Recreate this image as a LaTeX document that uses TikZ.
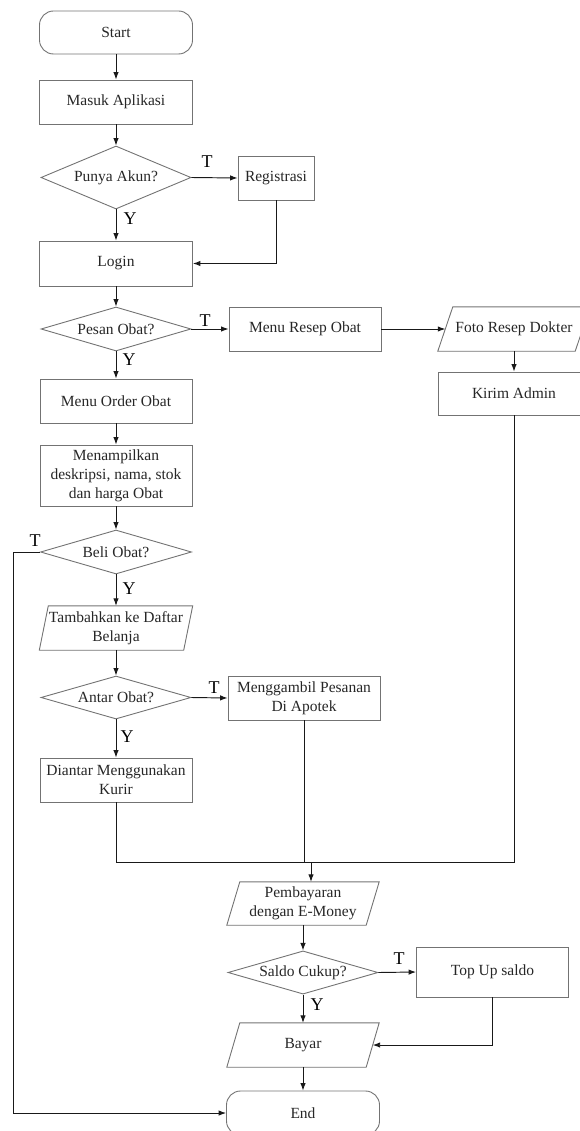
\documentclass[tikz,border=0pt]{standalone}
\usepackage{fontspec}
\setmainfont{Liberation Serif}
\usetikzlibrary{shapes.geometric,arrows.meta,calc}
\newcommand\drawpgram[2]{%
  \draw[outline] ($(#1.north west)+(#2,0)$) -- ($(#1.north east)+(#2,0)$)
    -- ($(#1.south east)+(-#2,0)$) -- ($(#1.south west)+(-#2,0)$) -- cycle;}
\begin{document}
\begin{tikzpicture}[x=1pt,y=-1pt,
  every node/.style={font=\fontsize{15.5}{19}\selectfont, text=black!85},
  outline/.style={draw=black!55, line width=0.9pt},
  box/.style={outline, rectangle, inner sep=2pt, align=center},
  term/.style={box, rounded corners=14pt},
  dec/.style={outline, diamond, shape aspect=3, inner sep=0pt},
  io/.style={rectangle, inner sep=2pt, align=center},
  lab/.style={font=\fontsize{18}{20}\selectfont, text=black},
  wire/.style={draw=black!90, line width=0.95pt},
  flow/.style={wire, -{Latex[length=7.5pt,width=5.5pt]}},
]
\useasboundingbox (0,0) rectangle (579,1131);

% main column
\node[term, minimum width=153pt, minimum height=43pt] (start) at (116,32.5) {Start};
\node[box, minimum width=153pt, minimum height=44pt] (masuk) at (116,102) {Masuk Aplikasi};
\node[dec, minimum width=150pt, minimum height=63pt] (punya) at (116,177.5) {Punya Akun?};
\node[box, minimum width=76pt, minimum height=44pt] (reg) at (276,178) {Registrasi};
\node[box, minimum width=153pt, minimum height=45pt] (login) at (116,263.5) {Login};
\node[dec, minimum width=150pt, minimum height=44pt] (pesan) at (116,329) {Pesan Obat?};
\node[box, minimum width=152pt, minimum height=44pt] (resep) at (305,329) {Menu Resep Obat};
\node[io, minimum width=137pt, minimum height=44pt] (foto) at (514,329) {Foto Resep Dokter};
\drawpgram{foto}{7.5}
\node[box, minimum width=151pt, minimum height=43pt] (kirim) at (514,393.5) {Kirim Admin};
\node[box, minimum width=152pt, minimum height=44pt] (order) at (116,401) {Menu Order Obat};
\node[box, minimum width=152pt, minimum height=61pt] (tampil) at (116,475.5) {Menampilkan\\deskripsi, nama, stok\\dan harga Obat};
\node[dec, minimum width=151pt, minimum height=44pt] (beli) at (116,552) {Beli Obat?};
\node[io, minimum width=144pt, minimum height=44pt] (tambah) at (116,628) {Tambahkan ke Daftar\\Belanja};
\drawpgram{tambah}{4.5}
\node[dec, minimum width=150pt, minimum height=43pt] (antar) at (116,697.5) {Antar Obat?};
\node[box, minimum width=152pt, minimum height=44pt] (ambil) at (304,698) {Menggambil Pesanan\\Di Apotek};
\node[box, minimum width=152pt, minimum height=44pt] (kurir) at (116,780) {Diantar Menggunakan\\Kurir};
\node[io, minimum width=139pt, minimum height=43pt] (pay) at (303,903.5) {Pembayaran\\dengan E-Money};
\drawpgram{pay}{6.5}
\node[dec, minimum width=150pt, minimum height=43pt] (saldo) at (303,972.5) {Saldo Cukup?};
\node[box, minimum width=152pt, minimum height=50pt] (topup) at (492.5,972) {Top Up saldo};
\node[io, minimum width=139pt, minimum height=44pt] (bayar) at (303,1045) {Bayar};
\drawpgram{bayar}{6.5}
\node[term, minimum width=153pt, minimum height=44pt] (end) at (303,1113) {End};

% connectors
\draw[flow] (start.south) -- (masuk.north);
\draw[flow] (masuk.south) -- (punya.north);
\draw[flow] (punya.east) -- (reg.west);
\draw[flow] (punya.south) -- (login.north);
\draw[flow] (reg.south) |- (login.east);
\draw[flow] (login.south) -- (pesan.north);
\draw[flow] (pesan.east) -- (resep.west);
\draw[flow] (resep.east) -- (foto.west);
\draw[flow] (foto.south) -- (kirim.north);
\draw[flow] (pesan.south) -- (order.north);
\draw[flow] (order.south) -- (tampil.north);
\draw[flow] (tampil.south) -- (beli.north);
\draw[flow] (beli.south) -- (tambah.north);
\draw[flow] (tambah.south) -- (antar.north);
\draw[flow] (antar.east) -- (ambil.west);
\draw[flow] (antar.south) -- (kurir.north);
\coordinate (join) at (311,862);
\draw[wire] (kurir.south) |- (join);
\draw[wire] (kirim.south) |- (join);
\draw[wire] (ambil.south) -- (ambil.south |- join);
\draw[flow] (join) -- (join |- pay.north);
\draw[flow] (pay.south) -- (saldo.north);
\draw[flow] (saldo.east) -- (topup.west);
\draw[flow] (saldo.south) -- (bayar.north);
\draw[flow] (topup.south) |- (bayar.east);
\draw[flow] (bayar.south) -- (end.north);
\draw[flow] (beli.west) -- ++(-27,0) |- (end.west);

% labels
\node[lab] (t1) at (207,162) {T};
\node[lab] (y1) at (130,219) {Y};
\node[lab] (t2) at (205,321) {T};
\node[lab] (y2) at (129,360) {Y};
\node[lab] (t3) at (35,541) {T};
\node[lab] (y3) at (129,589) {Y};
\node[lab] (t4) at (214,688) {T};
\node[lab] (y4) at (127,737) {Y};
\node[lab] (t5) at (399,959) {T};
\node[lab] (y5) at (317,1005) {Y};
\end{tikzpicture}
\end{document}
